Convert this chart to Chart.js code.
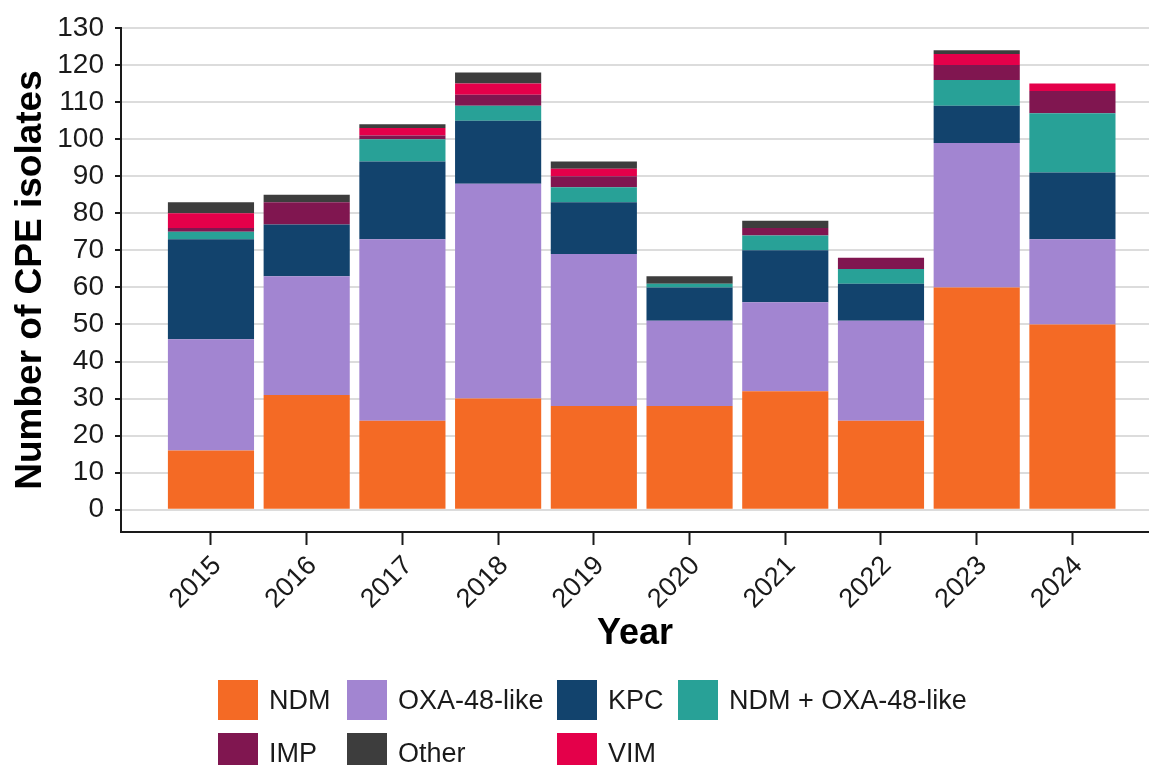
<!DOCTYPE html>
<html>
<head>
<meta charset="utf-8">
<script src="https://cdn.jsdelivr.net/npm/chart.js@4.4.1/dist/chart.umd.min.js"></script>
<style>
  html, body { margin: 0; padding: 0; background: #ffffff; }
  #wrap { position: relative; width: 1149px; height: 765px; overflow: hidden; font-family: "Liberation Sans", Arial, sans-serif; }
  #chartBox { position: absolute; left: 0; top: 0; width: 1149px; height: 765px; }
  #legend { position: absolute; left: 218px; top: 680px; display: grid; grid-template-columns: 129px 210px 121px auto; grid-auto-rows: 53px; }
  .item { display: flex; align-items: flex-start; }
  .box { width: 40px; height: 40px; flex: 0 0 40px; }
  .lab { margin-left: 11px; font-size: 27px; line-height: 40px; color: #1a1a1a; white-space: nowrap; }
</style>
</head>
<body>
<div id="wrap">
  <div id="chartBox"><canvas id="c"></canvas></div>
  <div id="legend"></div>
</div>
<script>
// ---- data ----
const years = [2015, 2016, 2017, 2018, 2019, 2020, 2021, 2022, 2023, 2024];
const ndm     = [16, 31, 24, 30, 28, 28, 32, 24, 60, 50];
const oxa48   = [30, 32, 49, 58, 41, 23, 24, 27, 39, 23];
const kpc     = [27, 14, 21, 17, 14,  9, 14, 10, 10, 18];
const ndmOxa  = [ 2,  0,  6,  4,  4,  1,  4,  4,  7, 16];
const imp     = [ 1,  6,  1,  3,  3,  0,  2,  3,  4,  6];
const vim     = [ 4,  0,  2,  3,  2,  0,  0,  0,  3,  2];
const other   = [ 3,  2,  1,  3,  2,  2,  2,  0,  1,  0];
const yTickValues = [0, 10, 20, 30, 40, 50, 60, 70, 80, 90, 100, 110, 120, 130];
const seriesNames = ["NDM", "OXA-48-like", "KPC", "NDM + OXA-48-like", "IMP", "VIM", "Other"];
const seriesValues = [ndm, oxa48, kpc, ndmOxa, imp, vim, other];
const seriesColors = ["#F46A25", "#A285D1", "#12436D", "#28A197", "#801650", "#E4004A", "#3D3D3D"];
const legendOrder = ["NDM", "OXA-48-like", "KPC", "NDM + OXA-48-like", "IMP", "Other", "VIM"];

const FONT = '"Liberation Sans", Arial, sans-serif';

const datasets = seriesNames.map((name, s) => ({
  label: name,
  data: years.map((yr, i) => ({ x: yr, y: seriesValues[s][i] })),
  backgroundColor: seriesColors[s],
  borderWidth: 0,
  barPercentage: 0.9,
  categoryPercentage: 1.0
}));

new Chart(document.getElementById('c'), {
  type: 'bar',
  data: { datasets },
  options: {
    responsive: true,
    maintainAspectRatio: false,
    animation: false,
    events: [],
    layout: { padding: { top: 28, right: 0, bottom: 105, left: 0 } },
    plugins: { legend: { display: false }, tooltip: { enabled: false } },
    scales: {
      x: {
        type: 'linear',
        stacked: true,
        offset: false,
        min: 2014.06,
        max: 2024.8,
        afterBuildTicks: (scale) => { scale.ticks = years.map(v => ({ value: v })); },
        afterFit: (scale) => { scale.height = 128; },
        grid: { display: true, offset: false, drawOnChartArea: false, drawTicks: true, tickLength: 13, tickColor: '#1a1a1a', tickWidth: 2 },
        border: { display: true, color: '#1a1a1a', width: 2 },
        ticks: {
          autoSkip: false,
          minRotation: 45,
          maxRotation: 45,
          padding: 5,
          labelOffset: 6,
          color: '#1a1a1a',
          font: { family: FONT, size: 27 },
          callback: (v) => String(v)
        },
        title: {
          display: true,
          text: 'Year',
          color: '#000000',
          font: { family: FONT, size: 36, weight: 'bold' },
          padding: { top: 0, bottom: 4 }
        }
      },
      y: {
        stacked: true,
        min: -6,
        max: 130,
        afterBuildTicks: (scale) => { scale.ticks = yTickValues.map(v => ({ value: v })); },
        afterFit: (scale) => { scale.width = 121; },
        grid: { color: '#dcdcdc', lineWidth: 2, drawTicks: true, tickLength: 6, tickColor: '#1a1a1a', tickWidth: 2 },
        border: { display: true, color: '#1a1a1a', width: 2 },
        ticks: {
          padding: 11,
          color: '#1a1a1a',
          font: { family: FONT, size: 28 },
          callback: (v) => String(v)
        },
        title: {
          display: true,
          text: 'Number of CPE isolates',
          color: '#000000',
          font: { family: FONT, size: 37, weight: 'bold' },
          padding: { top: 9, bottom: 0 }
        }
      }
    }
  }
});

// ---- legend (HTML, aligned in columns like the reference) ----
const legendEl = document.getElementById('legend');
legendOrder.forEach(name => {
  const idx = seriesNames.indexOf(name);
  const item = document.createElement('div');
  item.className = 'item';
  const box = document.createElement('div');
  box.className = 'box';
  box.style.background = seriesColors[idx];
  const lab = document.createElement('span');
  lab.className = 'lab';
  lab.textContent = name;
  item.appendChild(box);
  item.appendChild(lab);
  legendEl.appendChild(item);
});
</script>
</body>
</html>
